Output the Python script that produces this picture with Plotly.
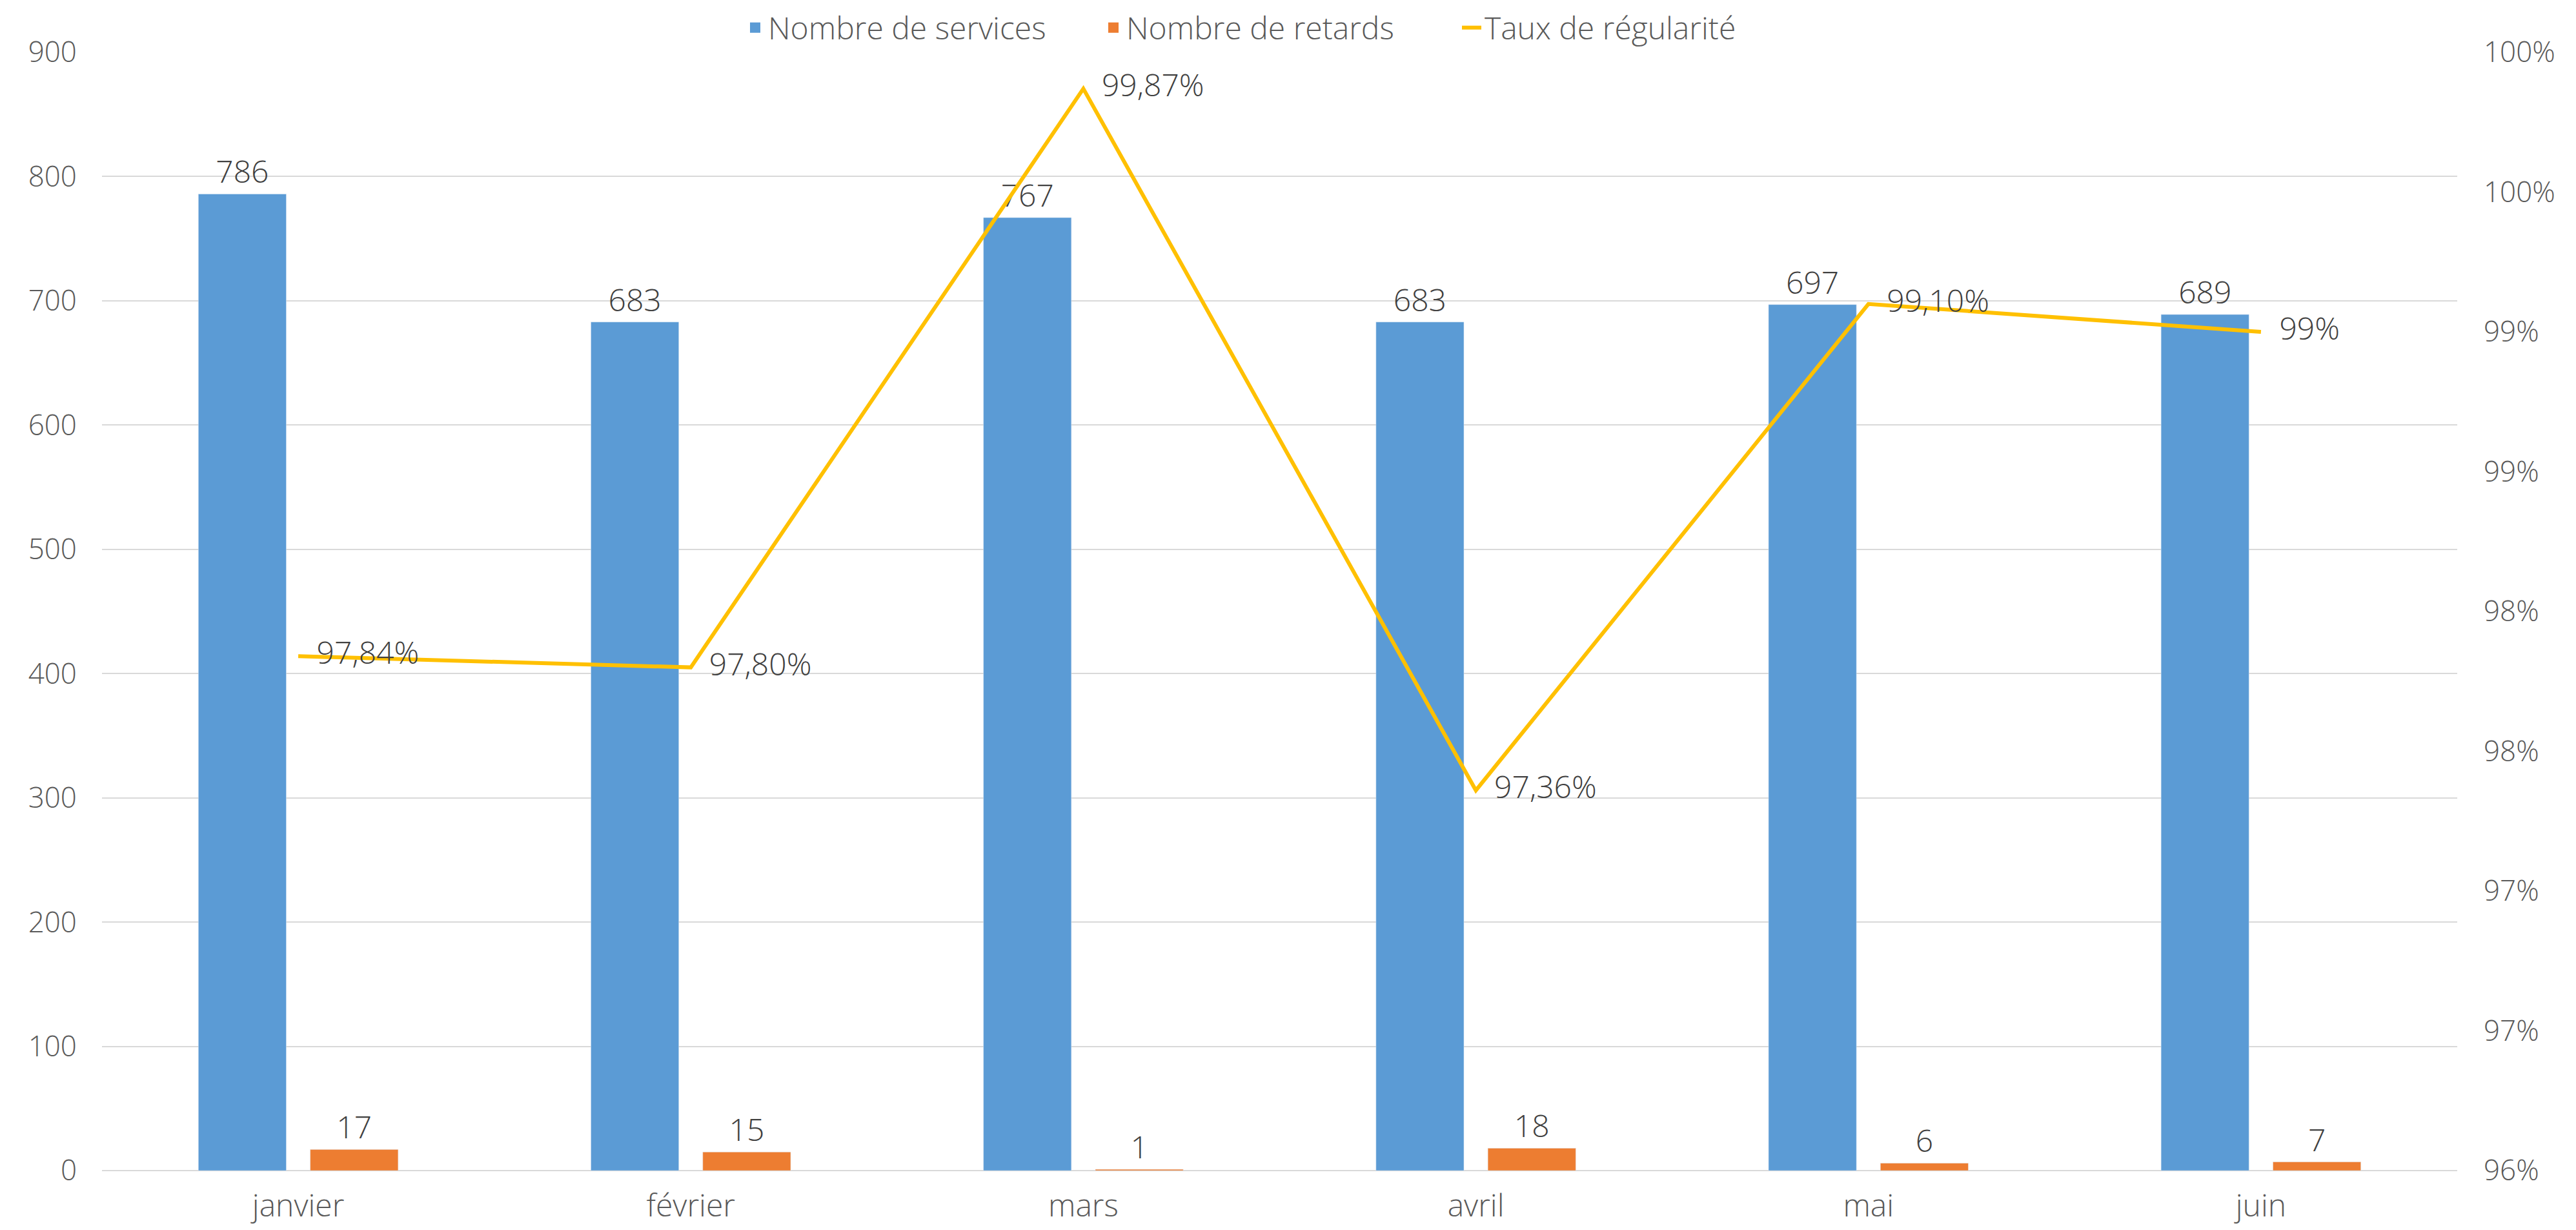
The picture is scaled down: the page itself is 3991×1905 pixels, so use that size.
import plotly.graph_objects as go

# Données
mois = ["janvier", "février", "mars", "avril", "mai", "juin"]
nb_services = [786, 683, 767, 683, 697, 689]
nb_retards = [17, 15, 1, 18, 6, 7]
taux_regularite = [0.9784, 0.9780, 0.9987, 0.9736, 0.9910, 0.99]

left_ticks = [0, 100, 200, 300, 400, 500, 600, 700, 800, 900]
right_ticks = [0.96, 0.965, 0.97, 0.975, 0.98, 0.985, 0.99, 0.995, 1.0]
right_labels = ["96%", "97%", "97%", "98%", "98%", "99%", "99%", "100%", "100%"]

BLEU = "#5B9BD5"
ORANGE = "#ED7D31"
JAUNE = "#FFC000"


def fmt_pct(v):
    p = round(v * 100, 2)
    if p == int(p):
        return f"{int(p)}%"
    return f"{p:.2f}".replace(".", ",") + "%"


FONT = "Open Sans"
label_font = dict(size=48, color="#404040", family=FONT, weight=300)

fig = go.Figure()

fig.add_trace(go.Bar(
    x=mois, y=nb_services, name="Nombre de services",
    marker_color=BLEU, showlegend=False,
    text=nb_services, textposition="outside", cliponaxis=False,
    textfont=label_font,
))
fig.add_trace(go.Bar(
    x=mois, y=nb_retards, name="Nombre de retards",
    marker_color=ORANGE, showlegend=False,
    text=nb_retards, textposition="outside", cliponaxis=False,
    textfont=label_font,
))
# invisible markers only used to push the labels away from the points
fig.add_trace(go.Scatter(
    x=mois, y=taux_regularite, name="Taux de régularité",
    yaxis="y2", mode="lines+markers+text", showlegend=False,
    line=dict(color=JAUNE, width=6),
    marker=dict(size=44, color="rgba(0,0,0,0)"),
    text=[fmt_pct(v) for v in taux_regularite],
    textposition="middle right", cliponaxis=False,
    textfont=label_font,
))

# legend entries
fig.add_trace(go.Scatter(x=[None], y=[None], mode="markers", name="Nombre de services",
                         marker=dict(symbol="square", size=30, color=BLEU)))
fig.add_trace(go.Scatter(x=[None], y=[None], mode="markers", name="Nombre de retards",
                         marker=dict(symbol="square", size=30, color=ORANGE)))
fig.add_trace(go.Scatter(x=[None], y=[None], mode="lines", name="Taux de régularité",
                         line=dict(color=JAUNE, width=6)))

fig.update_layout(
    width=3991, height=1905,
    margin=dict(l=158, r=184, t=79, b=92),
    plot_bgcolor="white", paper_bgcolor="white",
    font=dict(family=FONT, color="#595959", size=44, weight=300),
    barmode="group", bargap=0.43, bargroupgap=0.214,
    separators=", ",
    legend=dict(
        orientation="h", x=0.5, xanchor="center",
        yref="container", y=0.9774, yanchor="middle",
        font=dict(size=48, color="#595959", family=FONT, weight=300),
        itemwidth=30, traceorder="normal", itemsizing="trace",
        entrywidth=510, entrywidthmode="pixels",
    ),
    xaxis=dict(
        showgrid=False, showline=False, ticks="", zeroline=False,
        tickfont=dict(size=48, color="#595959"),
        ticklabelstandoff=22, automargin=False,
    ),
    yaxis=dict(
        range=[0, 900], tickvals=left_ticks,
        showgrid=True, gridcolor="#D9D9D9", gridwidth=2,
        zeroline=True, zerolinecolor="#D9D9D9", zerolinewidth=2,
        showline=False, ticks="", ticklabelstandoff=38, automargin=False,
    ),
    yaxis2=dict(
        range=[0.96, 1.0], overlaying="y", side="right",
        tickvals=right_ticks, ticktext=right_labels,
        showgrid=False, zeroline=False, showline=False, ticks="",
        ticklabelstandoff=40, automargin=False,
    ),
)

fig.write_html("out.html", config={"displayModeBar": False},
               post_script="document.body.style.margin='0';")
